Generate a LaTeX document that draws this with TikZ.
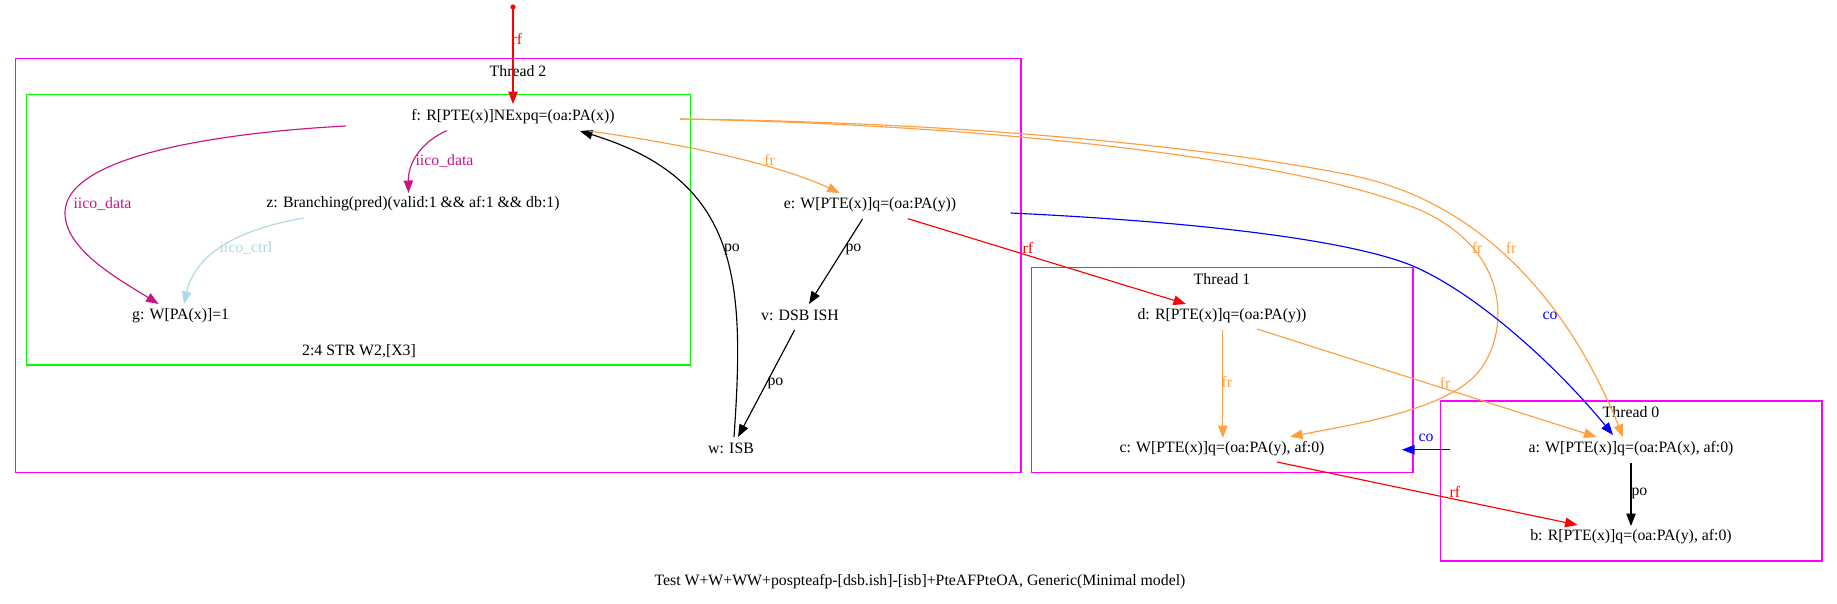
\documentclass[tikz,border=0pt]{standalone}
\usepackage{fontspec}
\setmainfont{Liberation Serif}
\usetikzlibrary{arrows.meta,calc}
\definecolor{frc}{HTML}{FFA040}
\definecolor{iicod}{HTML}{C71585}
\definecolor{iicoc}{HTML}{ADD8E6}
\definecolor{thr}{HTML}{FF00FF}
\definecolor{grn}{HTML}{00FF00}
\begin{document}
\begin{tikzpicture}[x=1pt,y=-1pt,
  ev/.style={inner sep=0pt, minimum height=26pt, font=\fontsize{15.8}{18}\selectfont},
  lbl/.style={inner sep=0pt, font=\fontsize{15.8}{18}\selectfont},
  edge/.style={line width=1.15pt, -{Triangle[length=12.5pt,width=9.5pt]}},
  box/.style={line width=1.2pt},
]
\useasboundingbox (0,0) rectangle (1837,603);

% boxes
\draw[box,thr] (15.6,58.3) rectangle (1021,472.7);
\draw[box,grn] (26.8,94.3) rectangle (690.6,365);
\draw[box,thr] (1031.7,267.7) rectangle (1413,472.7);
\draw[box,thr] (1440.4,401) rectangle (1822,561);

\node[lbl] (t2lab) at (518,70.7) {Thread 2};
\node[lbl] (t1lab) at (1222,279) {Thread 1};
\node[lbl] (t0lab) at (1631,412) {Thread 0};
\node[lbl] (grlab) at (359,351.7) {2:4 STR W2,[X3]};
\node[lbl] (cap) at (920,582) {Test W+W+WW+pospteafp-[dsb.ish]-[isb]+PteAFPteOA, Generic(Minimal model)};

% events
\node[ev] (f) at (513,116.7) {f: R[PTE(x)]NExpq=(oa:PA(x))};
\node[ev] (z) at (413,204) {z: Branching(pred)(valid:1 \&\& af:1 \&\& db:1)};
\node[ev] (g) at (180.6,315.7) {g: W[PA(x)]=1};
\node[ev] (e) at (870,205) {e: W[PTE(x)]q=(oa:PA(y))};
\node[ev] (v) at (800,315.7) {v: DSB ISH};
\node[ev] (w) at (731,448.7) {w: ISB};
\node[ev] (d) at (1222,315.7) {d: R[PTE(x)]q=(oa:PA(y))};
\node[ev] (c) at (1222,448.7) {c: W[PTE(x)]q=(oa:PA(y), af:0)};
\node[ev] (a) at (1631,448.7) {a: W[PTE(x)]q=(oa:PA(x), af:0)};
\node[ev] (b) at (1631,536.7) {b: R[PTE(x)]q=(oa:PA(y), af:0)};
\coordinate (init) at (513,7);

% initial rf
\fill[red] (init) circle (2.6);
\draw[edge,red] (init) -- ($(f)+(0,-12.7)$)
  node[lbl,red,anchor=west] at (511,39) {rf};

% iico edges
\draw[edge,iicod] ($(f)+(-66.3,14)$) .. controls (425,140) and (408,160) .. ($(z)+(-4.5,-11)$)
  node[lbl,iicod,anchor=west] at (415,161) {iico\textunderscore data};
\draw[edge,iicod] ($(f)+(-167,9.3)$) .. controls (250,131) and (65,150) .. (65,213)
  .. controls (65,250) and (120,280) .. ($(g)+(-22,-11.7)$)
  node[lbl,iicod,anchor=west] at (73,204) {iico\textunderscore data};
\draw[edge,iicoc] ($(z)+(-109.4,14)$) .. controls (235,230) and (195,255) .. ($(g)+(3.4,-11.7)$)
  node[lbl,iicoc,anchor=west] at (219,248) {iico\textunderscore ctrl};

% po edges
\draw[edge,black] ($(w)+(3,-11.7)$) .. controls (745,280) and (740,180) .. ($(f)+(67,14.3)$)
  node[lbl,anchor=west] at (723.5,249) {po};
\draw[edge,black] ($(e)+(-7.5,14)$) -- ($(v)+(9,-11.7)$)
  node[lbl,anchor=west] at (845,249) {po};
\draw[edge,black] ($(v)+(-5.4,14.3)$) -- ($(w)+(7,-11.7)$)
  node[lbl,anchor=west] at (767,383) {po};
\draw[edge,black] ($(a)+(0,14)$) -- ($(b)+(0,-10.7)$)
  node[lbl,anchor=west] at (1631,493) {po};

% rf edges
\draw[edge,red] ($(e)+(38,13.7)$) -- ($(d)+(-36,-11.7)$)
  node[lbl,red,anchor=west] at (1022,248) {rf};
\draw[edge,red] ($(c)+(55,13.3)$) -- ($(b)+(-53.4,-11.7)$)
  node[lbl,red,anchor=west] at (1449,492) {rf};

% fr edges
\draw[edge,frc] ($(f)+(76,14.3)$) .. controls (690,145) and (780,165) .. ($(e)+(-30.3,-12)$)
  node[lbl,frc] at (769.6,160) {fr};
\draw[edge,frc] ($(f)+(167,2.3)$) .. controls (950,122) and (1200,145) .. (1350,175)
  .. controls (1500,205) and (1580,330) .. ($(a)+(-8,-11.7)$)
  node[lbl,frc] at (1511,248) {fr};
\draw[edge,frc] ($(f)+(167,2.3)$) .. controls (1000,125) and (1300,160) .. (1420,210)
  .. controls (1510,250) and (1510,330) .. (1480,370)
  .. controls (1450,410) and (1350,425) .. ($(c)+(68,-12)$)
  node[lbl,frc] at (1477,248) {fr};
\draw[edge,frc] ($(d)+(0.8,14.3)$) -- ($(c)+(0.8,-10.7)$)
  node[lbl,frc,anchor=west] at (1221,382) {fr};
\draw[edge,frc] ($(d)+(35,13.3)$) -- ($(a)+(-34.5,-11.7)$)
  node[lbl,frc] at (1445,383) {fr};

% co edges
\draw[edge,blue] ($(e)+(140.7,8)$) .. controls (1200,222) and (1350,240) .. (1413,266)
  .. controls (1480,295) and (1560,370) .. ($(a)+(-18,-13.7)$)
  node[lbl,blue] at (1550,316) {co};
\draw[edge,blue] ($(a)+(-181,1)$) -- ($(c)+(180,1)$)
  node[lbl,blue] at (1426,438) {co};

\end{tikzpicture}
\end{document}
